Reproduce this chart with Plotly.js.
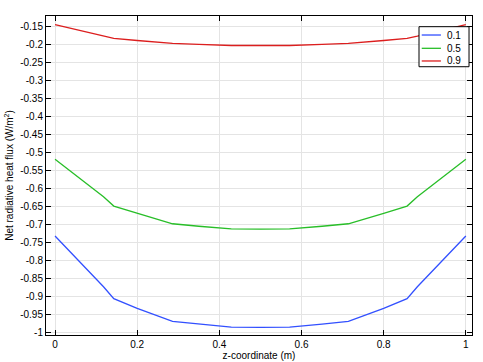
<!DOCTYPE html>
<html><head><meta charset="utf-8">
<script src="https://cdn.plot.ly/plotly-3.0.1.min.js"></script>
<style>body{margin:0}#c{width:483px;height:362px}</style>
</head><body><div id="c"></div>
<script>
var z = [0, 0.118, 0.143, 0.2, 0.286, 0.35, 0.429, 0.5, 0.571, 0.65, 0.714, 0.8, 0.857, 0.882, 1];
var flux01 = [-0.733, -0.874, -0.907, -0.934, -0.970, -0.978, -0.986, -0.987, -0.986, -0.978, -0.970, -0.934, -0.907, -0.874, -0.733];
var flux05 = [-0.52, -0.624, -0.65, -0.67, -0.699, -0.706, -0.713, -0.714, -0.713, -0.706, -0.699, -0.67, -0.65, -0.624, -0.52];
var flux09 = [-0.146, -0.178, -0.184, -0.19, -0.198, -0.201, -0.204, -0.204, -0.204, -0.201, -0.198, -0.19, -0.184, -0.178, -0.146];
var seriesNames = ['0.1', '0.5', '0.9'];
var xTicks = [0, 0.2, 0.4, 0.6, 0.8, 1];
var yTicks = [];
for (var i = 0; i <= 17; i++) yTicks.push(Math.round((-1 + 0.05 * i) * 100) / 100);
var yTickText = yTicks.map(function (v) { return String(v); });
var xTickText = xTicks.map(function (v) { return String(v); });

var colors = ['rgb(50,80,255)', 'rgb(40,190,40)', 'rgb(220,30,30)'];
var ys = [flux01, flux05, flux09];
var traces = ys.map(function (y, k) {
  return {x: z, y: y, name: seriesNames[k], type: 'scatter', mode: 'lines',
          line: {color: colors[k], width: 1.3}, showlegend: false};
});
var font = {family: 'Liberation Sans, Arial, sans-serif', size: 10, color: '#000'};

// custom compact legend (paper coordinates)
var shapes = [{type: 'rect', xref: 'paper', yref: 'paper', x0: 0.8756, x1: 0.993, y0: 0.841, y1: 0.9665,
               line: {color: '#000', width: 1}, fillcolor: '#fff', layer: 'above'}];
var annotations = [];
var rowY = [0.9404, 0.8987, 0.859];
seriesNames.forEach(function (n, k) {
  shapes.push({type: 'line', xref: 'paper', yref: 'paper', x0: 0.882, x1: 0.927, y0: rowY[k], y1: rowY[k],
               line: {color: colors[k], width: 1.3}, layer: 'above'});
  annotations.push({xref: 'paper', yref: 'paper', x: 0.937, y: rowY[k], xanchor: 'left', yanchor: 'middle',
                    text: n, showarrow: false, font: font});
});

var layout = {
  width: 483, height: 362,
  margin: {l: 46, r: 11, t: 16, b: 27},
  paper_bgcolor: '#fff', plot_bgcolor: '#fff',
  font: font,
  showlegend: false,
  shapes: shapes,
  annotations: annotations,
  xaxis: {range: [-0.022, 1.015], tickvals: xTicks, ticktext: xTickText,
          ticks: 'inside', ticklen: 5, tickcolor: '#000',
          showline: true, linecolor: '#000', linewidth: 1, mirror: 'ticks',
          showgrid: true, gridcolor: '#e4e4e4', zeroline: false,
          title: {text: 'z-coordinate (m)', font: font, standoff: 2}},
  yaxis: {range: [-1.008, -0.122], tickvals: yTicks, ticktext: yTickText,
          ticks: 'inside', ticklen: 5, tickcolor: '#000',
          showline: true, linecolor: '#000', linewidth: 1, mirror: 'ticks',
          showgrid: true, gridcolor: '#e4e4e4', zeroline: false,
          title: {text: 'Net radiative heat flux (W/m<sup>2</sup>)', font: font, standoff: 4}}
};
Plotly.newPlot('c', traces, layout, {displayModeBar: false, staticPlot: true});
</script>
</body></html>
